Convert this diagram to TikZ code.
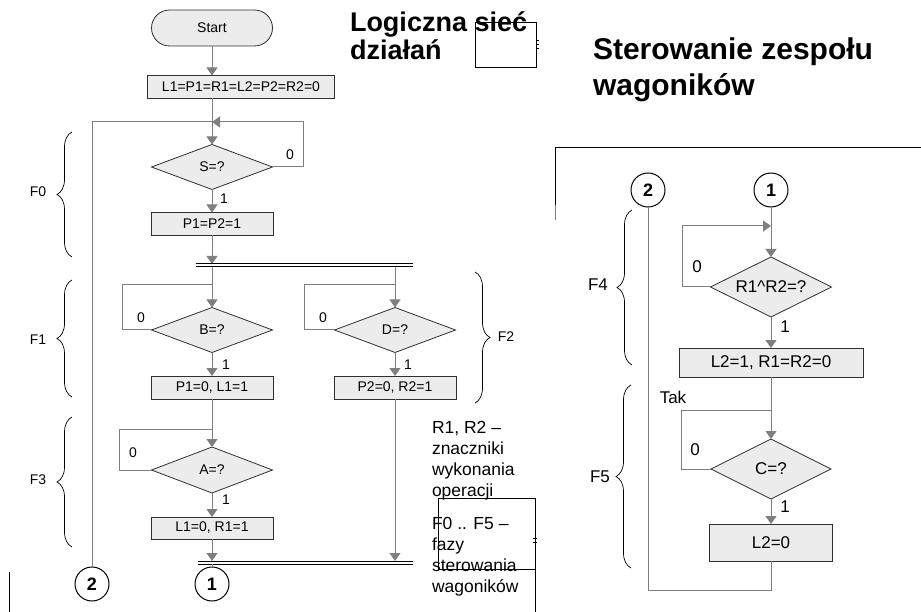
\documentclass[tikz,border=0pt]{standalone}
\usepackage{fontspec}
\setmainfont{Liberation Sans}
\usetikzlibrary{shapes.geometric,arrows.meta,decorations.pathreplacing}

\definecolor{flowline}{HTML}{7F7F7F}
\definecolor{boxfill}{HTML}{ECECEC}
\definecolor{boxedge}{HTML}{303030}

\begin{document}
\begin{tikzpicture}[x=1pt,y=-1pt,
  every node/.style={inner sep=0pt, outer sep=0pt},
  lbl/.style={font=\fontsize{14}{16}\selectfont},
  rlbl/.style={font=\fontsize{17}{19}\selectfont},
  proc/.style={draw=boxedge, fill=boxfill, line width=0.8pt, rectangle, lbl},
  dec/.style={draw=boxedge, fill=boxfill, line width=0.8pt, diamond, aspect=2.7, lbl},
  conn/.style={draw=black, fill=white, circle, line width=1pt, minimum size=34pt,
               font=\fontsize{18}{20}\selectfont\bfseries},
  flow/.style={draw=flowline, line width=1pt},
  arr/.style={flow, -{Triangle[width=11pt,length=8pt]}},
  bar/.style={draw=black, line width=1pt},
  phase/.style={draw=black, line width=0.7pt, decorate, decoration={brace, amplitude=15pt}},
  frame/.style={draw=black, line width=1pt},
  title/.style={anchor=base west, font=\fontsize{27}{28}\selectfont\bfseries},
  bigtitle/.style={anchor=base west, font=\fontsize{30}{32}\selectfont\bfseries},
  note/.style={anchor=base west, font=\fontsize{17.5}{21}\selectfont},
]
\useasboundingbox (0,0) rectangle (921,612);

% ---------- titles ----------
\node[title] (t1a) at (350,32) {Logiczna sieć};
\node[title] (t1b) at (350,60) {działań};
\draw[frame] (475,23) rectangle (536,68);
\draw[black, line width=0.5pt] (536,40) -- (539,40) (536,44) -- (539,44) (536,48) -- (539,48);
\node[bigtitle] (t2a) at (593,60) {Sterowanie zespołu};
\node[bigtitle] (t2b) at (593,96) {wagoników};

% ---------- left chart: nodes ----------
\node[proc, rounded corners=18pt, minimum width=121pt, minimum height=36pt] (start) at (212,28) {Start};
\node[proc, minimum width=187pt, minimum height=23pt] (init) at (241,87) {L1=P1=R1=L2=P2=R2=0};
\coordinate (j0) at (212,122);
\node[dec, minimum width=121pt, minimum height=45pt] (s) at (212,167) {S=?};
\node[proc, minimum width=122pt, minimum height=23pt] (p12) at (212,224) {P1=P2=1};
\node[minimum width=217pt, minimum height=3pt] (fork) at (304.5,265.5) {};
\coordinate (bj) at (212,285);
\coordinate (dj) at (395,285);
\node[dec, minimum width=121pt, minimum height=45pt] (b) at (212,330) {B=?};
\node[dec, minimum width=121pt, minimum height=45pt] (d) at (395,330) {D=?};
\node[proc, minimum width=122pt, minimum height=23pt] (pl) at (212,387.5) {P1=0, L1=1};
\node[proc, minimum width=122pt, minimum height=23pt] (pr) at (395,387.5) {P2=0, R2=1};
\coordinate (aj) at (212,429);
\node[dec, minimum width=121pt, minimum height=46pt] (a) at (212,470) {A=?};
\node[proc, minimum width=122pt, minimum height=22pt] (lr) at (212,528) {L1=0, R1=1};
\node[minimum width=215pt, minimum height=3pt] (join) at (305.5,562.5) {};
\node[conn] (c1l) at (212,584) {1};
\node[conn] (c2l) at (92,584) {2};

% ---------- left chart: connectors ----------
\draw[arr] (start.south) -- (start.south |- init.north);
\draw[arr] (init.south -| j0) -- (s.north);
\draw[arr] (s.east) -| (303,122) -- (j0);
\draw[flow] (c2l.north) -- (c2l.north |- j0) -- (j0);
\draw[arr] (s.south) -- (p12.north);
\draw[arr] (p12.south) -- (p12.south |- fork.north);
\draw[bar] (fork.north west) -- (fork.north east);
\draw[bar] (fork.south west) -- (fork.south east);
\draw[arr] (fork.south -| b.north) -- (b.north);
\draw[arr] (fork.south -| d.north) -- (d.north);
\draw[flow] (b.west) -| (122,285) -- (bj);
\draw[flow] (d.west) -| (304,285) -- (dj);
\draw[arr] (b.south) -- (pl.north);
\draw[arr] (d.south) -- (pr.north);
\draw[arr] (pl.south) -- (a.north);
\draw[flow] (a.west) -| (119,429) -- (aj);
\draw[arr] (a.south) -- (lr.north);
\draw[arr] (lr.south) -- (lr.south |- join.north);
\draw[arr] (pr.south) -- (pr.south |- join.north);
\draw[bar] (join.north west) -- (join.north east);
\draw[bar] (join.south west) -- (join.south east);
\draw[flow] (join.south -| c1l.north) -- (c1l.north);

% branch labels
\node[lbl] (s0) at (290,155) {0};
\node[lbl] (s1) at (224,199) {1};
\node[lbl] (b0) at (141,318) {0};
\node[lbl] (b1) at (226,365) {1};
\node[lbl] (d0) at (323,318) {0};
\node[lbl] (d1) at (408,365) {1};
\node[lbl] (a0) at (133,453) {0};
\node[lbl] (a1) at (226,500) {1};

% phases of the left chart
\draw[phase] (72,257) -- (72,132);
\draw[phase] (72,397) -- (72,280);
\draw[phase] (72,547) -- (72,417);
\draw[phase] (475,272) -- (475,403);
\node[lbl] (f0) at (38,192) {F0};
\node[lbl] (f1) at (38,340) {F1};
\node[lbl] (f3) at (38,480) {F3};
\node[lbl] (f2) at (506,337) {F2};

% ---------- notes ----------
\node[note] (n1) at (432,433) {R1, R2 –};
\node[note] (n2) at (432,454) {znaczniki};
\node[note] (n3) at (432,475) {wykonania};
\node[note] (n4) at (432,496) {operacji};
\node[note] (n5) at (432,529) {F0 .. F5 –};
\node[note] (n6) at (432,550) {fazy};
\node[note] (n7) at (432,571) {sterowania};
\node[note] (n8) at (432,592) {wagoników};
\draw[frame] (438,498) rectangle (535,569);
\draw[frame] (535,569) -- (535,612);
\draw[black, line width=0.5pt] (533,538) -- (537,538) (533,542) -- (537,542);
\draw[frame] (9,572) -- (9,612);

% ---------- right chart ----------
\draw[frame] (921,148) -- (555,148) -- (555,205);
\draw[flow] (555,205) -- (555,220);
\node[conn] (c2r) at (648,190) {2};
\node[conn] (c1r) at (771,190) {1};
\coordinate (rj) at (771,226);
\node[dec, rlbl, aspect=2, minimum width=121pt, minimum height=60pt] (r12) at (771,287) {R1\textasciicircum R2=?};
\node[proc, rlbl, minimum width=184pt, minimum height=29pt] (l21) at (771,362.5) {L2=1, R1=R2=0};
\coordinate (cj) at (771,410);
\node[dec, rlbl, aspect=2, minimum width=120pt, minimum height=60pt] (c) at (771,469) {C=?};
\node[proc, rlbl, minimum width=123pt, minimum height=37pt] (l20) at (771,542.5) {L2=0};

\draw[arr] (c1r.south) -- (r12.north);
\draw[arr] (r12.west) -| (682,226) -- (rj);
\draw[arr] (r12.south) -- (l21.north);
\draw[arr] (l21.south) -- (c.north);
\draw[flow] (c.west) -| (681,410) -- (cj);
\draw[arr] (c.south) -- (l20.north);
\draw[flow] (l20.south) -- (771,590) -| (c2r.south);

\node[rlbl] (r0) at (697,267) {0};
\node[rlbl] (r1) at (785,327) {1};
\node[rlbl] (tak) at (673,397) {Tak};
\node[rlbl] (c0) at (695,450) {0};
\node[rlbl] (c1) at (785,507) {1};

\draw[phase] (632,365) -- (632,210);
\draw[phase] (631,568) -- (631,385);
\node[rlbl] (f4) at (598,285) {F4};
\node[rlbl] (f5) at (600,477) {F5};
\end{tikzpicture}
\end{document}
